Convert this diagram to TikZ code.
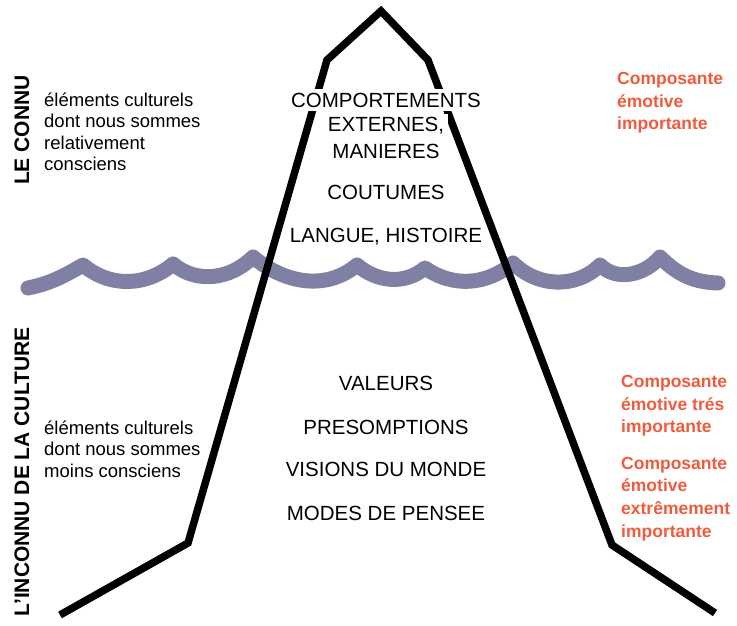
\documentclass[tikz,border=0pt]{standalone}
\usepackage{fontspec}
\setmainfont{Liberation Sans}

\definecolor{sea}{RGB}{128,128,164}
\definecolor{emo}{RGB}{238,91,61}

\begin{document}
\begin{tikzpicture}[x=1pt, y=1pt,
    level/.style={fill=white, inner sep=4pt, font=\fontsize{20.5}{24}\selectfont},
    note/.style={anchor=west, inner sep=0pt, align=left, font=\fontsize{18.5}{21.5}\selectfont},
    emotion/.style={anchor=west, inner sep=0pt, align=left, text=emo, font=\bfseries\fontsize{17.5}{22.7}\selectfont},
    side/.style={rotate=90, inner sep=0pt, font=\bfseries\fontsize{21}{24}\selectfont}]

    \useasboundingbox (0,0) rectangle (737,625);

    % water line
    \draw[sea, line width=15pt, line cap=round, line join=round]
        (28,337) to[out=12,in=-150] (83,360)
        to[out=-40,in=-140] (173,361)
        to[out=-40,in=-135] (253,368)
        to[out=-40,in=-140] (357,360)
        to[out=-40,in=-140] (425,357)
        to[out=-35,in=-140] (513,362)
        to[out=-45,in=-135] (600,360)
        to[out=-45,in=-130] (660,368)
        to[out=-45,in=178] (718,342);

    % iceberg
    \draw[line width=7.5pt] (60,10) -- (188,82) -- (327,565) -- (381,614) -- (428,565) -- (612,80) -- (715,12);

    % above the water
    \node[level] (comp) at (386,525) {COMPORTEMENTS};
    \node[level] (ext) at (386,499) {EXTERNES,};
    \node[level] (man) at (386,474) {MANIERES};
    \node[level] (cout) at (386,433) {COUTUMES};
    \node[level] (lang) at (386,388) {LANGUE, HISTOIRE};

    % below the water
    \node[level] (val) at (386,242) {VALEURS};
    \node[level] (pres) at (386,198) {PRESOMPTIONS};
    \node[level] (vis) at (386,156) {VISIONS DU MONDE};
    \node[level] (mod) at (386,112) {MODES DE PENSEE};

    \node[side] (connu) at (22,495) {LE CONNU};
    \node[side] (inconnu) at (22,153) {L'INCONNU DE LA CULTURE};

    \node[note] (conscient) at (44,493) {éléments culturels\\dont nous sommes\\relativement\\consciens};
    \node[note] (moins) at (44,176) {éléments culturels\\dont nous sommes\\moins consciens};

    \node[emotion] (emoA) at (617,522) {Composante\\émotive\\importante};
    \node[emotion] (emoB) at (621,219) {Composante\\émotive trés\\importante};
    \node[emotion] (emoC) at (621,126) {Composante\\émotive\\extrêmement\\importante};

\end{tikzpicture}
\end{document}
